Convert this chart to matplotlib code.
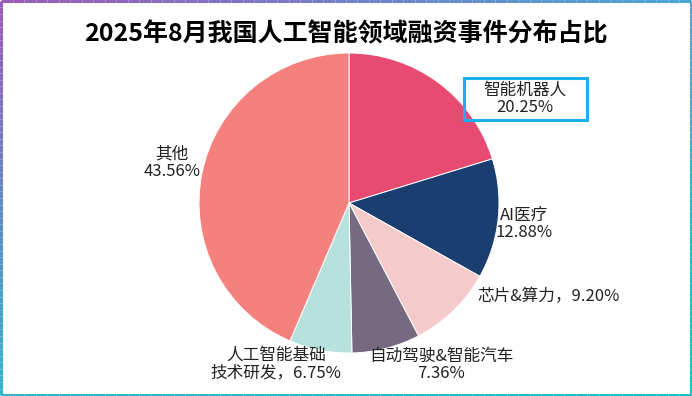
import matplotlib.pyplot as plt
import numpy as np
from matplotlib.collections import LineCollection
from matplotlib.patches import Rectangle

plt.rcParams['font.family'] = ['Noto Sans CJK SC', 'DejaVu Sans']

categories = ['智能机器人', 'AI医疗', '芯片&算力', '自动驾驶&智能汽车', '人工智能基础技术研发', '其他']
shares = [20.25, 12.88, 9.20, 7.36, 6.75, 43.56]
label_texts = ['智能机器人\n20.25%', 'AI医疗\n12.88%', '芯片&算力，9.20%',
               '自动驾驶&智能汽车\n7.36%', '人工智能基础\n技术研发，6.75%', '其他\n43.56%']
colors = ['#E84B71', '#1B3E70', '#F5CACA', '#766A80', '#B6E1DC', '#F4817D']

W, H = 692, 396
fig = plt.figure(figsize=(W / 100, H / 100), dpi=100)
ax = fig.add_axes([0, 0, 1, 1])

# pie centre and radius in pixels
cx, cy, r = 349, 203, 150

ax.pie(shares, colors=colors, startangle=90, counterclock=False, radius=1,
       wedgeprops=dict(edgecolor='white', linewidth=0.7))
ax.set_xlim(-cx / r, (W - cx) / r)
ax.set_ylim(-(H - cy) / r, cy / r)
ax.set_aspect('auto')
ax.axis('off')


def px(x, y):
    return (x - cx) / r, (cy - y) / r


label_pos = [(525, 99), (524, 224), (549, 297), (441, 365), (276, 364), (172, 163)]
for txt, (lx, ly) in zip(label_texts, label_pos):
    x, y = px(lx, ly)
    ax.text(x, y, txt, ha='center', va='center', fontsize=12,
            color='#222222', linespacing=1.05, zorder=5)

# highlight box around the first label (transparent, pie shows through)
bx0, by0 = px(464, 120)
bx1, by1 = px(587, 78)
ax.add_patch(Rectangle((bx0, by0), bx1 - bx0, by1 - by0, facecolor='none',
                       edgecolor='#1AAEEA', linewidth=2.2, zorder=4))

fig.text(0.5, 1 - 34 / H, '2025年8月我国人工智能领域融资事件分布占比',
         ha='center', va='center', fontsize=18, fontweight='bold', color='black')


# gradient frame
def edge(p0, p1, c0, c1, n=60):
    xs = np.linspace(p0[0], p1[0], n + 1)
    ys = np.linspace(p0[1], p1[1], n + 1)
    segs = [[(xs[i], ys[i]), (xs[i + 1], ys[i + 1])] for i in range(n)]
    c0 = np.array(plt.matplotlib.colors.to_rgb(c0))
    c1 = np.array(plt.matplotlib.colors.to_rgb(c1))
    cols = [c0 + (c1 - c0) * t for t in np.linspace(0, 1, n)]
    return LineCollection(segs, colors=cols, linewidths=2.2, transform=fig.transFigure)


e = 0.002
purple, blue, teal = '#9B5BB8', '#4BA6D6', '#19C0C4'
fig.add_artist(edge((e, 1 - e), (1 - e, 1 - e), purple, blue))
fig.add_artist(edge((e, 1 - e), (e, e), purple, '#2EB5C8'))
fig.add_artist(edge((e, e), (1 - e, e), '#2EB5C8', teal))
fig.add_artist(edge((1 - e, 1 - e), (1 - e, e), blue, teal))

fig.savefig('out.png', dpi=100)
